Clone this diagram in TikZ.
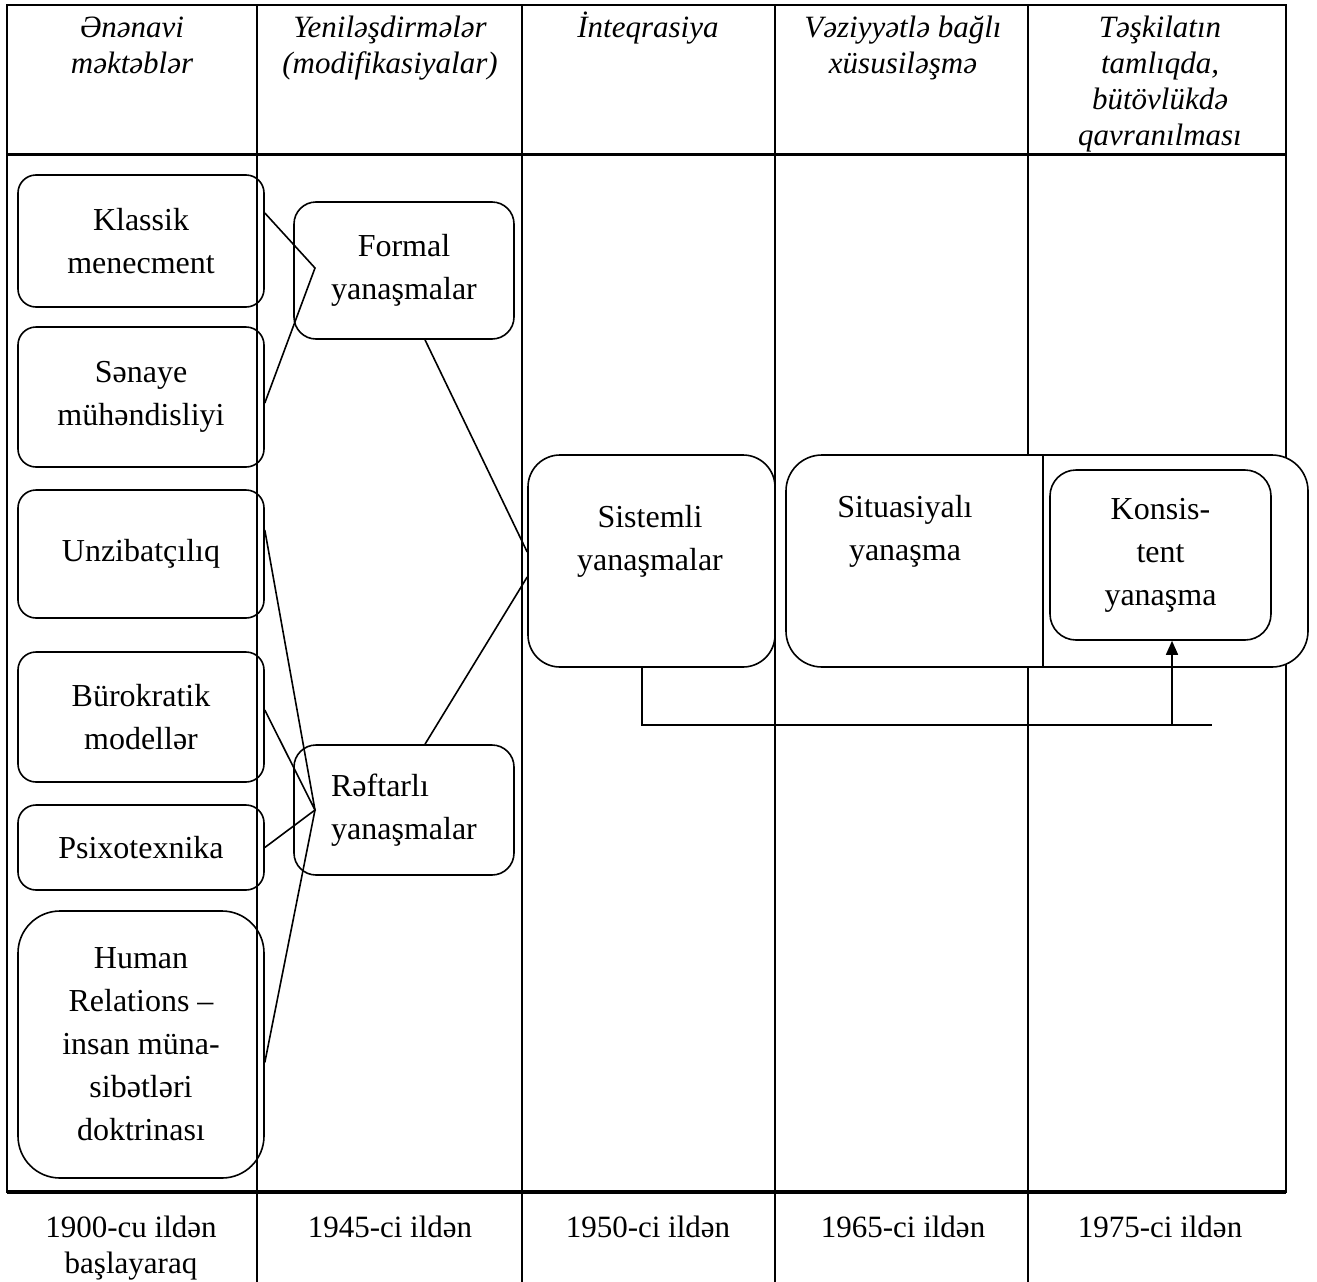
\documentclass[tikz,border=0pt]{standalone}
\usepackage{fontspec}
\setmainfont{Liberation Serif}
\usetikzlibrary{arrows.meta}
\newcommand\mybodyfont{\fontsize{32}{43}\selectfont}
\newcommand\myheadfont{\fontsize{31}{36}\selectfont\itshape}
\newcommand\myyearfont{\fontsize{31}{36}\selectfont}
\tikzset{
  box/.style={draw, line width=1.6pt, rounded corners=18pt, inner sep=0pt, align=center, font=\mybodyfont},
  txt/.style={inner sep=0pt, align=center, font=\mybodyfont},
  head/.style={inner sep=0pt, align=center, font=\myheadfont, anchor=north},
  year/.style={inner sep=0pt, align=center, font=\myyearfont, anchor=north},
  grid/.style={line width=2pt},
  conn/.style={line width=1.6pt},
}
\begin{document}
\begin{tikzpicture}[x=1pt,y=-1pt]
\useasboundingbox (0,0) rectangle (1317,1282);
% table
\draw[line width=2.5pt] (7,5) rectangle (1286,1192);
\draw[line width=3pt] (7,154) -- (1286,154);
\draw[line width=4pt] (7,1192) -- (1286,1192);
\foreach \cx in {257,522,775,1028} \draw[grid] (\cx,5) -- (\cx,1282);
% headers
\node[head] (h1) at (132,12) {\strut Ənənavi\\məktəblər};
\node[head] (h2) at (390,12) {\strut Yeniləşdirmələr\\(modifikasiyalar)};
\node[head] (h3) at (648,12) {\strut İnteqrasiya};
\node[head] (h4) at (903,12) {\strut Vəziyyətlə bağlı\\xüsusiləşmə};
\node[head] (h5) at (1160,12) {\strut Təşkilatın\\tamlıqda,\\bütövlükdə\\qavranılması};
% years
\node[year] (y1) at (131,1212) {\strut 1900-cu ildən\\başlayaraq};
\node[year] (y2) at (390,1212) {\strut 1945-ci ildən};
\node[year] (y3) at (648,1212) {\strut 1950-ci ildən};
\node[year] (y4) at (903,1212) {\strut 1965-ci ildən};
\node[year] (y5) at (1160,1212) {\strut 1975-ci ildən};
% left boxes
\node[box, minimum width=246pt, minimum height=132pt] (klassik) at (141,241) {Klassik\\menecment};
\node[box, minimum width=246pt, minimum height=140pt] (senaye) at (141,397) {Sənaye\\mühəndisliyi};
\node[box, minimum width=246pt, minimum height=128pt] (unz) at (141,554) {Unzibatçılıq};
\node[box, minimum width=246pt, minimum height=130pt] (bur) at (141,717) {Bürokratik\\modellər};
\node[box, minimum width=246pt, minimum height=85pt] (psi) at (141,847.5) {Psixotexnika};
\node[box, rounded corners=42pt, minimum width=246pt, minimum height=267pt] (hum) at (141,1044.5) {Human\\Relations --\\insan müna-\\sibətləri\\doktrinası};
% second column
\node[box, rounded corners=22pt, minimum width=220pt, minimum height=137pt] (formal) at (404,270.5) {Formal\\yanaşmalar};
\node[box, rounded corners=22pt, minimum width=220pt, minimum height=130pt, align=left] (reft) at (404,810) {Rəftarlı\\yanaşmalar};
% integration
\node[box, rounded corners=32pt, minimum width=247pt, minimum height=212pt] (sist) at (651.5,561) {};
\node[txt] (sistt) at (650,541) {Sistemli\\yanaşmalar};
\node[box, fill=white, rounded corners=36pt, minimum width=522pt, minimum height=212pt] (sit) at (1047,561) {};
\draw[conn] ([xshift=-4pt]sit.north) -- ([xshift=-4pt]sit.south);
\node[txt] (sitt) at (905,531) {Situasiyalı\\yanaşma};
\node[box, fill=white, rounded corners=26pt, minimum width=221pt, minimum height=170pt] (kons) at (1160.5,555) {Konsis-\\tent\\yanaşma};
% connectors
\coordinate (jf) at (315,268);
\coordinate (jr) at (315,810);
\draw[conn] ([yshift=28pt]klassik.east) -- (jf) -- ([yshift=-6pt]senaye.east);
\draw[conn] ([yshift=24pt]unz.east) -- (jr) -- ([yshift=-18pt]hum.east);
\draw[conn] ([yshift=7pt]bur.east) -- (jr) -- (psi.east);
\draw[conn] ([xshift=21pt]formal.south) -- ([yshift=9pt]sist.west);
\draw[conn] ([xshift=21pt]reft.north) -- ([yshift=-16pt]sist.west);
\coordinate (lineend) at (1212,725);
\coordinate (branch) at (1172,725);
\draw[conn] ([xshift=-9.5pt]sist.south) |- (lineend);
\draw[conn, -{Triangle[length=14pt,width=12pt]}] (branch) -- (branch |- kons.south);
\end{tikzpicture}
\end{document}
